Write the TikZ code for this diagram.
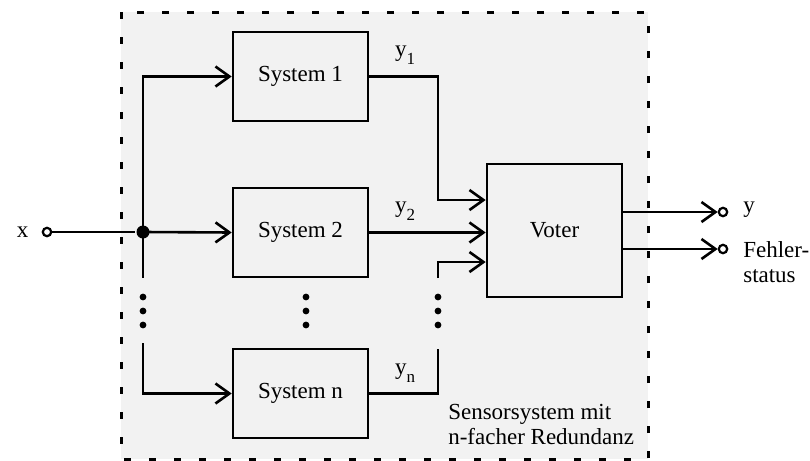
\documentclass[tikz,border=0pt]{standalone}
\usepackage{fontspec}
\setmainfont{Liberation Serif}
\usepackage{tikz}
\usetikzlibrary{calc, positioning, arrows.meta}
\definecolor{redgray}{HTML}{F2F2F2}

\newcommand{\sub}[1]{\raisebox{-0.75ex}{\fontsize{8.5}{9}\selectfont #1}}

\begin{document}
\begin{tikzpicture}[x=0.5pt, y=-0.5pt, font=\fontsize{11.5}{12.5}\selectfont, line width=1.3pt]

\useasboundingbox (0,0) rectangle (810,461);

% Styles
\tikzset{
  sysbox/.style={draw, fill=redgray, minimum width=67.5pt, minimum height=44.5pt, inner sep=0pt},
  voterbox/.style={draw, fill=redgray, minimum width=67.5pt, minimum height=66.5pt, inner sep=0pt},
  term/.style={draw, fill=white, circle, minimum size=4.2pt, inner sep=0pt, line width=1.1pt},
  junct/.style={fill, circle, minimum size=6.5pt, inner sep=0pt},
  sig/.style={-{Straight Barb[length=7pt, width=10pt]}},
  lbl/.style={inner sep=1pt}
}

% Background (Sensorsystem)
\fill[redgray] (121,12) rectangle (648,459);
\draw[line width=1.5pt, dash pattern=on 3.5pt off 9pt] (121,12) rectangle (648,459);

% Blocks
\node[sysbox] (sys1) at (300.5,76.5) {System 1};
\node[sysbox] (sys2) at (300.5,232.5) {System 2};
\node[sysbox] (sysn) at (300.5,393.5) {System n};
\node[voterbox] (voter) at (554.5,230.5) {Voter};

% Input
\node[term] (xin) at (47,232) {};
\node[lbl, left=5pt of xin] (xlbl) {x};
\node[junct] (split) at (143,232) {};
\coordinate (stub) at (143,278);
\coordinate (low) at (143,343);

\draw (xin) -- (split);
\draw[sig] (split.center) -- (sys2.west);
\draw[sig] (split.center) |- (sys1.west);
\draw (split.center) -- (stub);
\draw[sig] (low) |- (sysn.west);

% Outputs of the systems
\coordinate (bend1) at (438,200);
\coordinate (topn) at (438,349);
\coordinate (stub3) at (438,278);
\coordinate (bend3) at (438,262);

\draw[sig] (sys1.east) -| (bend1) -- (voter.west |- bend1);
\draw[sig] (sys2.east) -- (voter.west |- sys2.east);
\draw (sysn.east) -| (topn);
\draw[sig] (stub3) -- (bend3) -- (voter.west |- bend3);

\node[lbl] (ly1) at (405,55) {y\sub{1}};
\node[lbl] (ly2) at (405,211) {y\sub{2}};
\node[lbl] (lyn) at (405,373) {y\sub{n}};

% Dots
\foreach \x in {143,306,438} {
  \foreach \y in {297,311,325} {
    \fill (\x,\y) circle (1.7pt);
  }
}

% Voter outputs
\node[term] (yout) at (723,212) {};
\node[term] (fout) at (723,249) {};
\draw[sig] (voter.east |- yout) -- (yout.west);
\draw[sig] (voter.east |- fout) -- (fout.west);
\node[lbl, anchor=west] (ylbl) at (740,210) {y};
\node[lbl, anchor=north west, align=left] (flbl) at (740,238) {Fehler-\\status};

% Caption
\node[lbl, anchor=west, align=left] (caption) at (445,424) {Sensorsystem mit\\n-facher Redundanz};

\end{tikzpicture}
\end{document}
